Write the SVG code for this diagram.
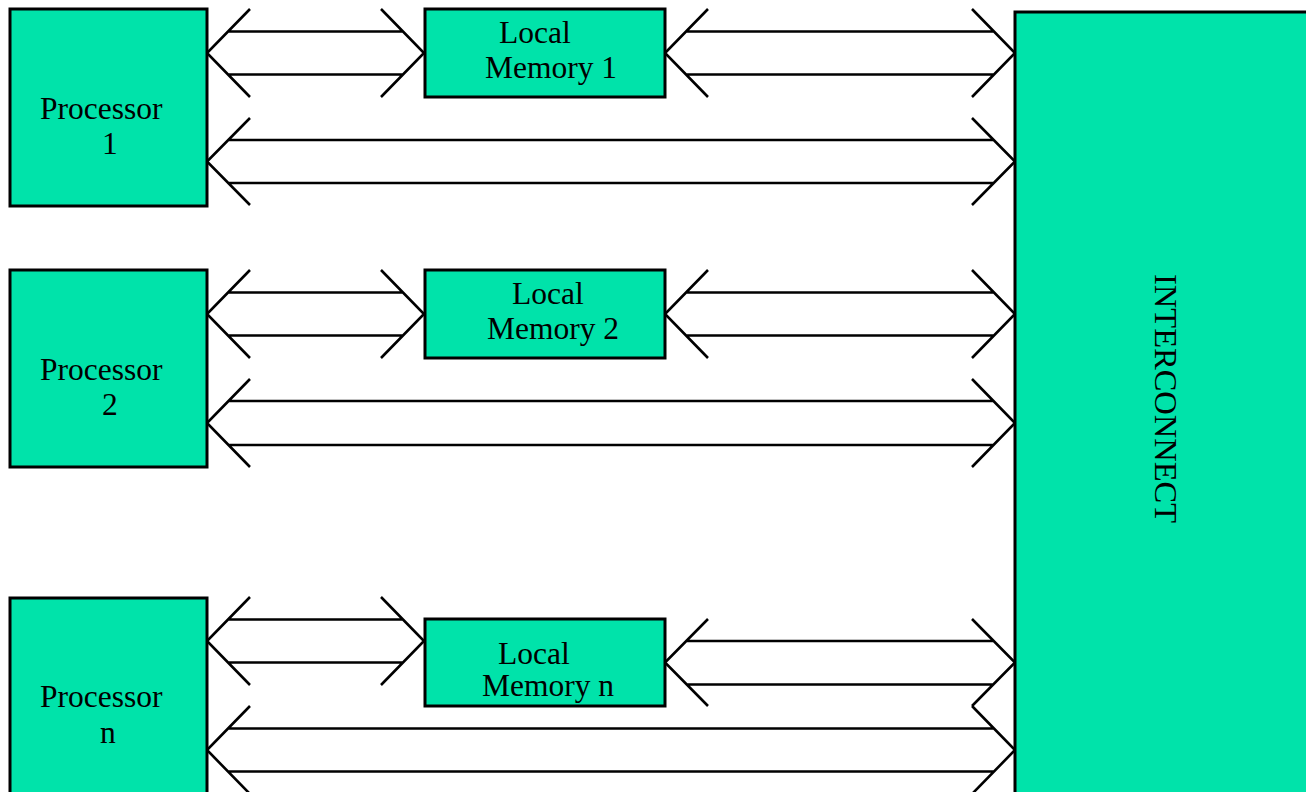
<svg xmlns="http://www.w3.org/2000/svg" width="1306" height="792" viewBox="0 0 1306 792">
<style>
.box{fill:#00E3AA;stroke:#000;stroke-width:3}
.t{font-family:"Liberation Serif","Times New Roman",serif;font-size:31.5px;fill:#000}
.a{fill:none;stroke:#000;stroke-width:2.6}
</style>
<rect width="1306" height="792" fill="#fff"/>
<g id="connectors">
<path class="a" d="M250,9 L207,53 L250,97 M381,9 L424,53 L381,97 M228,31.5 H403 M228,74.5 H403"/>
<path class="a" d="M708,9 L665,53 L708,97 M972,9 L1015,53 L972,97 M686,31.5 H994 M686,74.5 H994"/>
<path class="a" d="M250,118 L207,161.5 L250,205 M972,118 L1015,161.5 L972,205 M228,140 H994 M228,183 H994"/>
<path class="a" d="M250,270 L207,314 L250,358 M381,270 L424,314 L381,358 M228,292.5 H403 M228,335.5 H403"/>
<path class="a" d="M708,270 L665,314 L708,358 M972,270 L1015,314 L972,358 M686,292.5 H994 M686,335.5 H994"/>
<path class="a" d="M250,379 L207,423 L250,467 M972,379 L1015,423 L972,467 M228,401 H994 M228,445 H994"/>
<path class="a" d="M250,597 L207,641 L250,685 M381,597 L424,641 L381,685 M228,619.5 H403 M228,662.5 H403"/>
<path class="a" d="M708,619 L665,662.5 L708,706 M972,619 L1015,662.5 L972,706 M686,641 H994 M686,684.5 H994"/>
<path class="a" d="M250,706 L207,750 L250,794 M972,706 L1015,750 L972,794 M228,728.5 H994 M228,771.5 H994"/>
</g>
<g id="interconnect">
<rect class="box" x="1015" y="12" width="300" height="800"/>
<text class="t" style="font-size:32.5px" transform="translate(1155,274) rotate(90)">INTERCONNECT</text>
</g>
<g id="processor1">
<rect class="box" x="10" y="9" width="197" height="197"/>
<text class="t" x="40" y="119">Processor</text>
<text class="t" x="102" y="154">1</text>
</g>
<g id="processor2">
<rect class="box" x="10" y="270" width="197" height="197"/>
<text class="t" x="40" y="380">Processor</text>
<text class="t" x="102" y="415">2</text>
</g>
<g id="processorn">
<rect class="box" x="10" y="598" width="197" height="210"/>
<text class="t" x="40" y="707">Processor</text>
<text class="t" x="100" y="743">n</text>
</g>
<g id="localmemory1">
<rect class="box" x="425" y="9" width="240" height="88"/>
<text class="t" x="499" y="43">Local</text>
<text class="t" x="485" y="78">Memory 1</text>
</g>
<g id="localmemory2">
<rect class="box" x="425" y="270" width="240" height="88"/>
<text class="t" x="512" y="304">Local</text>
<text class="t" x="487" y="339">Memory 2</text>
</g>
<g id="localmemoryn">
<rect class="box" x="425" y="619" width="240" height="87"/>
<text class="t" x="498" y="664">Local</text>
<text class="t" x="482" y="696">Memory n</text>
</g>
</svg>
